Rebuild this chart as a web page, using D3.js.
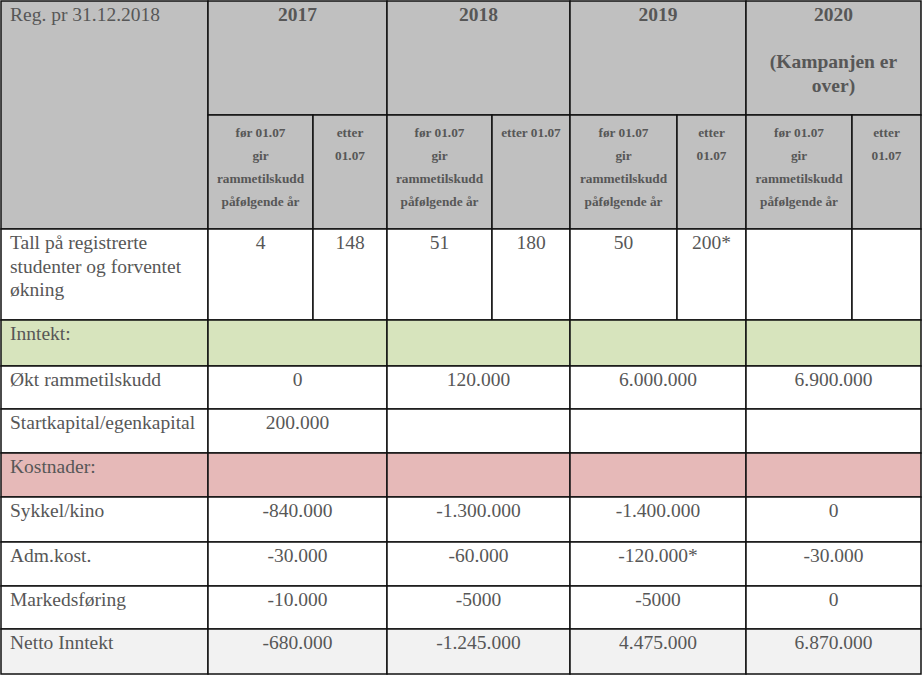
<!DOCTYPE html>
<html>
<head>
<meta charset="utf-8">
<script src="https://cdn.jsdelivr.net/npm/d3@7"></script>
<style>
  body { margin: 0; background: #fff; }
  svg text { font-family: "Liberation Serif", "Times New Roman", serif; fill: #575757; }
</style>
</head>
<body>
<div id="table"></div>
<script>
// Table data
const cornerLabel = "Reg. pr 31.12.2018";
const years = ["2017", "2018", "2019", "2020"];
const yearNotes = [[], [], [], ["", "(Kampanjen er", "over)"]];
const subHeaders = [
  ["før 01.07", "gir", "rammetilskudd", "påfølgende år"], ["etter", "01.07"],
  ["før 01.07", "gir", "rammetilskudd", "påfølgende år"], ["etter 01.07"],
  ["før 01.07", "gir", "rammetilskudd", "påfølgende år"], ["etter", "01.07"],
  ["før 01.07", "gir", "rammetilskudd", "påfølgende år"], ["etter", "01.07"]
];
const studentLabel = ["Tall på registrerte", "studenter og forventet", "økning"];
const studentCounts = ["4", "148", "51", "180", "50", "200*", "", ""];

const rowLabels = ["Inntekt:", "Økt rammetilskudd", "Startkapital/egenkapital",
  "Kostnader:", "Sykkel/kino", "Adm.kost.", "Markedsføring", "Netto Inntekt"];
const rowKinds = ["income", "value", "value", "cost", "value", "value", "value", "net"];
const rowValues = [
  ["", "", "", ""],
  ["0", "120.000", "6.000.000", "6.900.000"],
  ["200.000", "", "", ""],
  ["", "", "", ""],
  ["-840.000", "-1.300.000", "-1.400.000", "0"],
  ["-30.000", "-60.000", "-120.000*", "-30.000"],
  ["-10.000", "-5000", "-5000", "0"],
  ["-680.000", "-1.245.000", "4.475.000", "6.870.000"]
];

const width = 923, height = 676;
const fills = { header: "#c0c0c0", income: "#d7e4bd", cost: "#e6b9b8", value: "#ffffff", net: "#f2f2f2" };

// column edges: label column + 8 sub columns
const x = d3.scaleLinear()
  .domain(d3.range(10))
  .range([1, 208, 313, 387, 492, 570, 677, 746, 852, 921]);
// row edges: 2 header rows, student row, 8 value rows
const y = d3.scaleLinear()
  .domain(d3.range(12))
  .range([1, 115, 229, 320, 366, 409, 453, 497, 542, 586, 629, 674]);

const svg = d3.select("#table")
  .append("svg")
  .attr("width", width)
  .attr("height", height);

// build cells
const cells = [];
cells.push({ c0: 0, c1: 1, r0: 0, r1: 2, fill: fills.header, lines: [cornerLabel], align: "start", size: 19.5 });
years.forEach((yr, i) => {
  cells.push({ c0: 1 + 2 * i, c1: 3 + 2 * i, r0: 0, r1: 1, fill: fills.header, lines: [yr].concat(yearNotes[i]), align: "middle", size: 19.5, bold: true, lh: 23.5 });
});
subHeaders.forEach((lines, i) => {
  cells.push({ c0: 1 + i, c1: 2 + i, r0: 1, r1: 2, fill: fills.header, lines: lines, align: "middle", size: 13.3, bold: true, lh: 23, top: 22 });
});
cells.push({ c0: 0, c1: 1, r0: 2, r1: 3, fill: fills.value, lines: studentLabel, align: "start", size: 19.5, lh: 23.5 });
studentCounts.forEach((v, i) => {
  cells.push({ c0: 1 + i, c1: 2 + i, r0: 2, r1: 3, fill: fills.value, lines: [v], align: "middle", size: 19.5 });
});
rowLabels.forEach((label, r) => {
  const fill = fills[rowKinds[r]];
  cells.push({ c0: 0, c1: 1, r0: 3 + r, r1: 4 + r, fill: fill, lines: [label], align: "start", size: 19.5 });
  rowValues[r].forEach((v, i) => {
    cells.push({ c0: 1 + 2 * i, c1: 3 + 2 * i, r0: 3 + r, r1: 4 + r, fill: fill, lines: [v], align: "middle", size: 19.5 });
  });
});

const g = svg.selectAll("g.cell")
  .data(cells)
  .enter()
  .append("g")
  .attr("class", "cell");

g.append("rect")
  .attr("x", d => x(d.c0))
  .attr("y", d => y(d.r0))
  .attr("width", d => x(d.c1) - x(d.c0))
  .attr("height", d => y(d.r1) - y(d.r0))
  .attr("fill", d => d.fill);

g.each(function (d) {
  const tx = d.align === "start" ? x(d.c0) + 9 : (x(d.c0) + x(d.c1)) / 2;
  const t0 = y(d.r0) + (d.top || 20);
  d3.select(this).selectAll("text")
    .data(d.lines)
    .enter()
    .append("text")
    .attr("x", tx)
    .attr("y", (l, i) => t0 + i * (d.lh || 23.5))
    .attr("text-anchor", d.align)
    .attr("font-size", d.size)
    .attr("font-weight", d.bold ? "bold" : "normal")
    .text(l => l);
});

// borders on top of fills
g.append("rect")
  .attr("x", d => x(d.c0))
  .attr("y", d => y(d.r0))
  .attr("width", d => x(d.c1) - x(d.c0))
  .attr("height", d => y(d.r1) - y(d.r0))
  .attr("fill", "none")
  .attr("stroke", "#111")
  .attr("stroke-width", 1.5);
</script>
</body>
</html>
